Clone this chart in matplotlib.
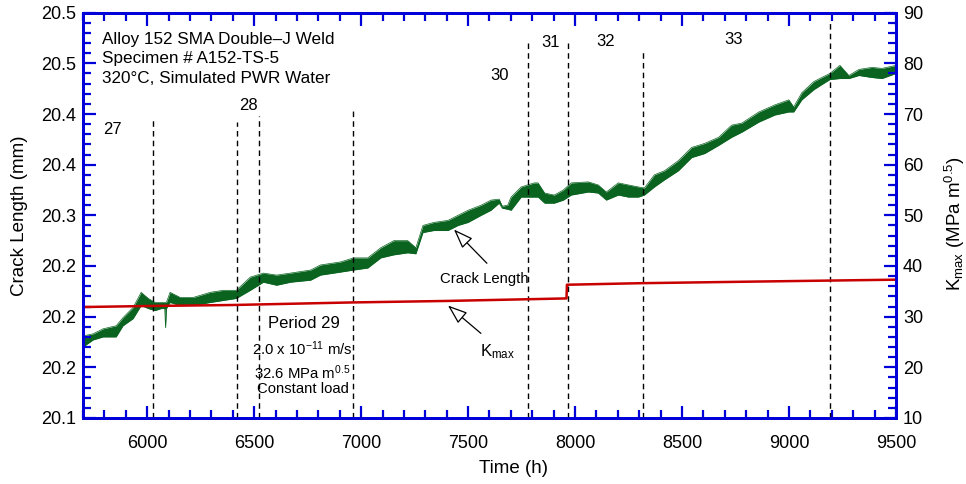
import numpy as np
import matplotlib.pyplot as plt
from matplotlib.ticker import MultipleLocator, FixedLocator

plt.rcParams['font.family'] = ['Liberation Sans', 'DejaVu Sans']
plt.rcParams['mathtext.fontset'] = 'custom'
plt.rcParams['mathtext.rm'] = 'Liberation Sans'
plt.rcParams['mathtext.it'] = 'Liberation Sans:italic'

# crack length: lower / upper edge of the noisy trace (mm)
time_a = [5700, 5747, 5794, 5855, 5887, 5934, 5972, 6005, 6037, 6066,
          6082, 6086, 6090, 6107, 6154, 6216, 6295, 6356, 6417, 6482,
          6543, 6605, 6670, 6764, 6810, 6904, 6965, 7031, 7092, 7153,
          7218, 7256, 7289, 7340, 7406, 7453, 7500, 7561, 7607, 7645,
          7660, 7685, 7701, 7748, 7809, 7827, 7858, 7903, 7945, 7982,
          8062, 8108, 8146, 8202, 8249, 8296, 8324, 8371, 8418, 8483,
          8545, 8606, 8671, 8732, 8779, 8859, 8934, 8999, 9022, 9060,
          9116, 9153, 9191, 9238, 9280, 9327, 9388, 9435, 9500]
crack_lo = [20.170, 20.177, 20.180, 20.180, 20.191, 20.198, 20.211, 20.208, 20.206, 20.208,
            20.208, 20.189, 20.208, 20.214, 20.211, 20.211, 20.214, 20.216, 20.218, 20.226,
            20.234, 20.231, 20.234, 20.236, 20.241, 20.244, 20.246, 20.248, 20.258, 20.261,
            20.263, 20.262, 20.283, 20.285, 20.285, 20.290, 20.293, 20.300, 20.305, 20.312,
            20.307, 20.306, 20.305, 20.318, 20.318, 20.318, 20.312, 20.312, 20.315, 20.320,
            20.323, 20.322, 20.315, 20.320, 20.318, 20.318, 20.320, 20.328, 20.335, 20.344,
            20.357, 20.361, 20.369, 20.377, 20.382, 20.392, 20.399, 20.402, 20.402, 20.414,
            20.424, 20.429, 20.434, 20.435, 20.435, 20.438, 20.436, 20.435, 20.440]
crack_hi = [20.181, 20.183, 20.188, 20.191, 20.199, 20.209, 20.224, 20.218, 20.214, 20.214,
            20.214, 20.214, 20.214, 20.224, 20.219, 20.219, 20.224, 20.226, 20.226, 20.239,
            20.243, 20.241, 20.243, 20.246, 20.251, 20.254, 20.258, 20.258, 20.268, 20.275,
            20.275, 20.268, 20.290, 20.293, 20.295, 20.300, 20.305, 20.310, 20.315, 20.316,
            20.309, 20.310, 20.318, 20.328, 20.332, 20.332, 20.322, 20.320, 20.325, 20.332,
            20.333, 20.330, 20.323, 20.332, 20.330, 20.328, 20.327, 20.340, 20.344, 20.354,
            20.367, 20.371, 20.377, 20.389, 20.391, 20.402, 20.409, 20.414, 20.407, 20.421,
            20.432, 20.436, 20.440, 20.448, 20.438, 20.444, 20.446, 20.445, 20.448]

# K max (MPa m^0.5)
time_k = [5700, 6000, 6400, 6950, 7400, 7960, 7962, 8300, 8800, 9500]
kmax = [31.9, 32.1, 32.3, 32.8, 33.1, 33.6, 36.3, 36.6, 36.9, 37.3]

# period boundaries (h) and how high the dashed lines go (mm)
bounds = [6025, 6422, 6525, 6960, 7782, 7967, 8318, 9193]
bound_tops = [20.396, 20.392, 20.398, 20.406, 20.470, 20.472, 20.463, 20.490]

periods = ['27', '28', '30', '31', '32', '33']
period_t = [5836, 6473, 7649, 7884, 8141, 8741]
period_a = [20.385, 20.408, 20.438, 20.471, 20.472, 20.474]

xticks = [6000, 6500, 7000, 7500, 8000, 8500, 9000, 9500]
yticks = [20.10, 20.15, 20.20, 20.25, 20.30, 20.35, 20.40, 20.45, 20.50]
ylabels = ['20.1', '20.2', '20.2', '20.2', '20.3', '20.4', '20.4', '20.5', '20.5']
kticks = [10, 20, 30, 40, 50, 60, 70, 80, 90]

blue = '#0000d8'
green = '#0a6420'
red = '#c80000'

fig = plt.figure(figsize=(9.66, 4.84), dpi=100)
ax = fig.add_axes([0.0859, 0.1364, 0.8416, 0.8374])
ax2 = ax.twinx()

# crack length band
ax.fill_between(time_a, crack_lo, crack_hi, color=green, lw=0)
ax.plot(time_a, crack_lo, color=green, lw=0.5)
ax.plot(time_a, crack_hi, color=green, lw=0.5)

ax.vlines(bounds, 20.1, bound_tops, colors='black', linestyles=(0, (4, 3)), lw=1)

ax2.plot(time_k, kmax, color=red, lw=1.8)

ax.set_xlim(5700, 9500)
ax.set_ylim(20.1, 20.5)
ax2.set_ylim(10, 90)

ax.xaxis.set_major_locator(FixedLocator(xticks))
ax.xaxis.set_minor_locator(MultipleLocator(100))
ax.yaxis.set_major_locator(FixedLocator(yticks))
ax.set_yticklabels(ylabels)
ax.yaxis.set_minor_locator(MultipleLocator(0.01))
ax2.yaxis.set_major_locator(FixedLocator(kticks))
ax2.yaxis.set_minor_locator(MultipleLocator(2))

for a in (ax, ax2):
    for s in a.spines.values():
        s.set_color(blue)
        s.set_linewidth(2)
ax.tick_params(which='major', direction='in', length=9, width=1.6, color=blue,
               labelsize=13, top=True, pad=5)
ax.tick_params(which='minor', direction='in', length=6, width=1.6, color=blue, top=True)
ax.tick_params(axis='x', which='major', pad=12)
ax2.tick_params(which='major', direction='in', length=9, width=1.6, color=blue,
                labelsize=13, pad=5)
ax2.tick_params(which='minor', direction='in', length=6, width=1.6, color=blue)

ax.set_xlabel('Time (h)', fontsize=13.5)
ax.xaxis.set_label_coords(0.529, -0.104)
ax.set_ylabel('Crack Length (mm)', fontsize=13.5)
ax.yaxis.set_label_coords(-0.068, 0.5)
ax2.set_ylabel(r'K$_{\mathrm{max}}$ (MPa m$^{\mathrm{0.5}}$)', fontsize=13.5)
ax2.yaxis.set_label_coords(1.058, 0.48)

# header
ax.text(5790, 20.474, 'Alloy 152 SMA Double\u2013J Weld', fontsize=12.3, va='center')
ax.text(5790, 20.455, 'Specimen # A152-TS-5', fontsize=12.3, va='center')
ax.text(5790, 20.435, '320\u00b0C, Simulated PWR Water', fontsize=12.3, va='center')

for p, t, a in zip(periods, period_t, period_a):
    ax.text(t, a, p, fontsize=12, ha='center', va='center')

ax.text(6731, 20.193, 'Period 29', fontsize=12, ha='center', va='center')
ax.text(6726, 20.168, '2.0 x 10$^{\\mathrm{\u221211}}$ m/s', fontsize=10.7, ha='center', va='center')
ax.text(6726, 20.145, '32.6 MPa m$^{\\mathrm{0.5}}$', fontsize=10.7, ha='center', va='center')
ax.text(6726, 20.129, 'Constant load', fontsize=10.7, ha='center', va='center')

arrow = dict(arrowstyle='-|>,head_length=0.6,head_width=0.22', fc='white', ec='black',
             lw=0.9, mutation_scale=20, shrinkA=0, shrinkB=0)
ax.annotate('', xy=(7434, 20.286), xytext=(7588, 20.2527), arrowprops=arrow)
ax.text(7574, 20.237, 'Crack Length', fontsize=10.7, ha='center', va='center')
ax.annotate('', xy=(7406, 20.211), xytext=(7560, 20.1835), arrowprops=arrow)
ax.text(7640, 20.165, r'K$_{\mathrm{max}}$', fontsize=12, ha='center', va='center')

plt.savefig('out.png', dpi=100)
